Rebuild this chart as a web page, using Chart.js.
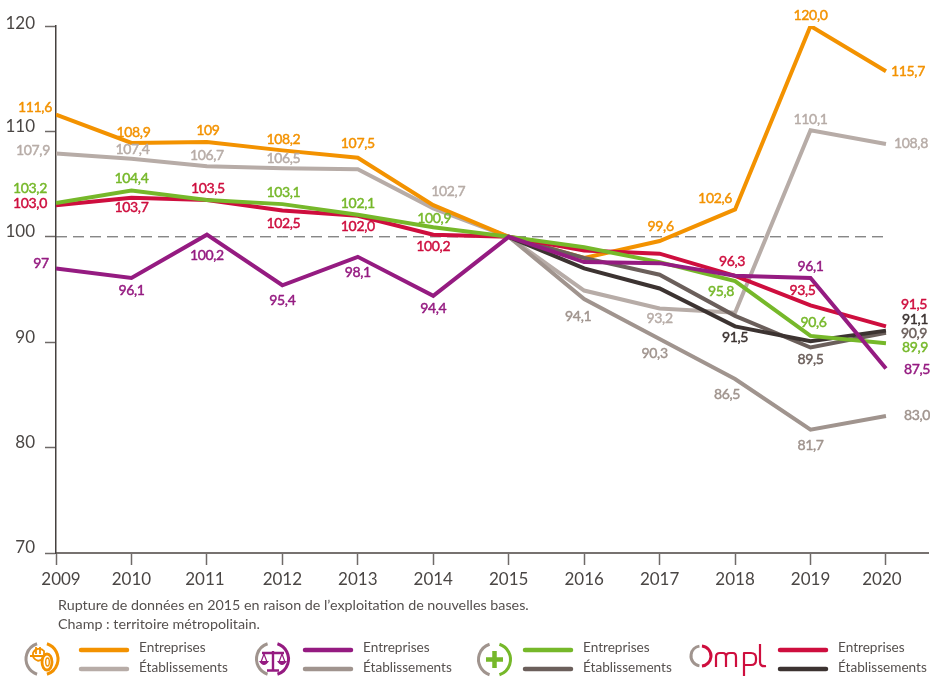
<!DOCTYPE html>
<html lang="fr">
<head>
<meta charset="utf-8">
<style>html,body{margin:0;padding:0;background:#fff}canvas{display:block}</style>
<script src="https://cdn.jsdelivr.net/npm/chart.js@4"></script>
</head>
<body>
<canvas id="c" width="930" height="678"></canvas>
<script>
const years = [2009,2010,2011,2012,2013,2014,2015,2016,2017,2018,2019,2020];
const yTicks = [70,80,90,100,110,120];
const baseline = [100,100,100,100,100,100,100,100,100,100,100,100];

// Valeurs
const orangeEnt = [111.6,108.9,109,108.2,107.5,103,100,98,99.6,102.6,120,115.7];
const orangeEta = [107.9,107.4,106.7,106.5,106.4,102.7,100,94.9,93.2,92.8,110.1,108.8];
const purpleEnt = [97,96.1,100.2,95.4,98.1,94.4,100,97.6,97.5,96.3,96.1,87.5];
const purpleEta = [null,null,null,null,null,null,100,94.1,90.3,86.5,81.7,83];
const greenEnt  = [103.2,104.4,103.5,103.1,102.1,100.9,100,99,97.6,95.8,90.6,89.9];
const greenEta  = [null,null,null,null,null,null,100,98,96.4,92.5,89.5,90.9];
const redEnt    = [103,103.7,103.5,102.5,102,100.2,100,98.7,98.4,96.3,93.5,91.5];
const redEta    = [null,null,null,null,null,null,100,97,95.1,91.5,90.1,91.1];

// Étiquettes affichées
const orangeEntText = ['111,6','108,9','109','108,2','107,5',null,null,null,'99,6','102,6','120,0','115,7'];
const orangeEtaText = ['107,9','107,4','106,7','106,5',null,'102,7',null,null,'93,2',null,'110,1','108,8'];
const purpleEntText = ['97','96,1','100,2','95,4','98,1','94,4',null,null,null,null,'96,1','87,5'];
const purpleEtaText = [null,null,null,null,null,null,null,'94,1','90,3','86,5','81,7','83,0'];
const greenEntText  = ['103,2','104,4',null,'103,1','102,1','100,9',null,null,null,'95,8','90,6','89,9'];
const greenEtaText  = [null,null,null,null,null,null,null,null,null,null,'89,5','90,9'];
const redEntText    = ['103,0','103,7','103,5','102,5','102,0','100,2',null,null,null,'96,3','93,5','91,5'];
const redEtaText    = [null,null,null,null,null,null,null,null,null,'91,5',null,'91,1'];

// Décalages des étiquettes, en pixels, par rapport au point
const orangeEntShift = [[-21,-7],[2,-11],[1,-11],[1,-11],[0,-14],0,0,0,[1,-15],[-20,-11],[0,-11],[22,0]];
const orangeEtaShift = [[-23,-3],[1,-9],[0,-11],[1,-10],0,[15,-17],0,0,[0,10],0,[0,-11],[25,-1]];
const purpleEntShift = [[-15,-5],[0,13],[0,21],[0,15],[0,16],[0,13],0,0,0,0,[0,-11],[31,1]];
const purpleEtaShift = [0,0,0,0,0,0,0,[-6,17],[-5,14],[-8,15],[0,16],[31,0]];
const greenEntShift  = [[-26,-15],[0,-12],0,[1,-12],[0,-11],[1,-9],0,0,0,[-14,10],[3,-13],[29,4]];
const greenEtaShift  = [0,0,0,0,0,0,0,0,0,0,[0,12],[28,1]];
const redEntShift    = [[-26,-2],[0,10],[1,-11],[1,13],[0,11],[0,12],0,0,0,[-3,-14],[-8,-15],[28,-22]];
const redEtaShift    = [0,0,0,0,0,0,0,0,0,[0,11],0,[29,-11]];

const footnotes = ['Rupture de données en 2015 en raison de l’exploitation de nouvelles bases.','Champ : territoire métropolitain.'];
const legendEnt = 'Entreprises';
const legendEta = 'Établissements';

const FONT = 'Lato, "Open Sans", sans-serif';
const C = {orange:'#F39200',orange2:'#B7ACA7',purple:'#951B81',purple2:'#A0948E',green:'#76B82A',green2:'#6B5F5B',red:'#CE0E3E',red2:'#3C3331',grey:'#A0948E'};

function ds(label,values,color,order,text,shift){
  return {label,data:years.map((x,i)=>({x,y:values[i]})),borderColor:color,backgroundColor:color,borderWidth:4,
    pointRadius:0,pointHoverRadius:0,tension:0,borderJoinStyle:'miter',borderCapStyle:'butt',spanGaps:false,order,
    valueText:text,valueShift:shift};
}
const datasets = [
  ds('Entreprises 1',orangeEnt,C.orange,7,orangeEntText,orangeEntShift),
  ds('Établissements 1',orangeEta,C.orange2,8,orangeEtaText,orangeEtaShift),
  ds('Entreprises 2',purpleEnt,C.purple,1,purpleEntText,purpleEntShift),
  ds('Établissements 2',purpleEta,C.purple2,6,purpleEtaText,purpleEtaShift),
  ds('Entreprises 3',greenEnt,C.green,2,greenEntText,greenEntShift),
  ds('Établissements 3',greenEta,C.green2,5,greenEtaText,greenEtaShift),
  ds('Entreprises 4',redEnt,C.red,3,redEntText,redEntShift),
  ds('Établissements 4',redEta,C.red2,4,redEtaText,redEtaShift),
  {label:'Base 100',data:years.map((x,i)=>({x,y:baseline[i]})),borderColor:'#555',borderWidth:1,borderDash:[11,6],pointRadius:0,order:9}
];

function arcs(ctx,cx,cy,r,col,lw){
  ctx.lineWidth=lw;ctx.lineCap='butt';
  ctx.strokeStyle=C.grey;ctx.beginPath();ctx.arc(cx,cy,r,Math.PI*0.6,Math.PI*1.4);ctx.stroke();
  ctx.strokeStyle=col;ctx.beginPath();ctx.arc(cx,cy,r,-Math.PI*0.4,Math.PI*0.4);ctx.stroke();
}
function stroke(ctx,col,lw,path){ctx.strokeStyle=col;ctx.lineWidth=lw;ctx.lineCap='butt';ctx.lineJoin='round';ctx.stroke(new Path2D(path));}

const drawIcons = {
  orange(ctx){
    arcs(ctx,42,659,16,C.orange,3);
    stroke(ctx,C.orange,1.8,'M30,656 H45 M33,655 V653 A6.5,6.5 0 0 1 44,651 V655 M36,647 V654 M40,647 V654 M33,657 Q38,664 43,658');
    ctx.strokeStyle=C.orange;ctx.lineWidth=2.8;ctx.beginPath();ctx.ellipse(47,662,5,8,0,0,Math.PI*2);ctx.stroke();
    ctx.lineWidth=1.4;ctx.beginPath();ctx.ellipse(47.5,662,1.8,4,0,0,Math.PI*2);ctx.stroke();
  },
  purple(ctx){
    arcs(ctx,272.5,659,16,C.purple,3);
    stroke(ctx,C.purple,2.4,'M273,651 V670 M267,670.5 H279 M262,653 H284');
    stroke(ctx,C.purple,1.2,'M264,654 L261,662 M264,654 L267,662 M282,654 L279,662 M282,654 L285,662');
    ctx.fillStyle=C.purple;
    ctx.fill(new Path2D('M259,661 H269 Q264,669 259,661 Z M277,661 H287 Q282,669 277,661 Z'));
  },
  green(ctx){
    arcs(ctx,494.5,659.5,16,C.green,3);
    stroke(ctx,C.green,4.5,'M494.5,651 V668 M486,659.5 H503');
  },
  red(ctx){
    ctx.lineWidth=3;ctx.lineCap='butt';
    ctx.strokeStyle=C.grey;ctx.beginPath();ctx.arc(701,656,10,Math.PI*0.55,Math.PI*1.45);ctx.stroke();
    ctx.strokeStyle=C.red;ctx.beginPath();ctx.arc(701,656,10,-Math.PI*0.47,Math.PI*0.47);ctx.stroke();
    stroke(ctx,C.red,2.2,'M716,667 V657 Q716,653 720,653 H723 Q726,653 726,657 V667 M726,657 Q726,653 730,653 H733 Q736,653 736,657 V667');
    stroke(ctx,C.red,2.2,'M744,676 V653 H751 Q756,653 756,658 V660 Q756,665 751,665 H744');
    stroke(ctx,C.red,2.2,'M760,644 V662 Q760,667 766,666');
  }
};

const extras = {
  id:'extras',
  beforeDraw(chart){
    // Remonte les libellés de l'axe vertical au-dessus de leur graduation
    for(const item of chart.scales.y.getLabelItems()){
      if(item.shifted) continue;
      item.options.translation[1] -= item.label==='120' ? 2 : 5;
      item.shifted=true;
    }
    // Rentre les libellés extrêmes de l'axe horizontal
    for(const item of chart.scales.x.getLabelItems()){
      if(item.shifted) continue;
      if(item.label==='2009') item.options.translation[0] += 5;
      if(item.label==='2020') item.options.translation[0] -= 4;
      if(item.label==='2011') item.options.translation[0] -= 2;
      item.shifted=true;
    }
  },
  afterDatasetsDraw(chart){
    const ctx=chart.ctx;ctx.save();
    ctx.font='14px '+FONT;ctx.textAlign='center';ctx.textBaseline='middle';
    ctx.letterSpacing='-0.35px';ctx.lineWidth=0.45;ctx.lineJoin='round';
    chart.data.datasets.forEach((d,i)=>{
      if(!d.valueText) return;
      const pts=chart.getDatasetMeta(i).data;
      d.valueText.forEach((t,j)=>{
        if(!t) return;
        const s=d.valueShift[j]||[0,0];
        ctx.fillStyle=d.borderColor;ctx.strokeStyle=d.borderColor;
        ctx.fillText(t,pts[j].x+s[0],pts[j].y+s[1]);
        ctx.strokeText(t,pts[j].x+s[0],pts[j].y+s[1]);
      });
    });
    ctx.restore();
  },
  afterDraw(chart){
    const ctx=chart.ctx;ctx.save();
    ctx.fillStyle='#55504e';ctx.textAlign='left';ctx.textBaseline='middle';
    ctx.font='14.3px '+FONT;
    footnotes.forEach((t,i)=>ctx.fillText(t,58,605+i*19));
    ctx.font='13.6px '+FONT;
    const cols=[[79,139,'orange',0,1],[303,363,'purple',2,3],[523,583,'green',4,5],[778,838,'red',6,7]];
    for(const [lx,tx,key,a,b] of cols){
      ctx.lineCap='round';ctx.lineWidth=4.5;
      ctx.strokeStyle=chart.data.datasets[a].borderColor;ctx.beginPath();ctx.moveTo(lx+2,650);ctx.lineTo(lx+48,650);ctx.stroke();
      ctx.strokeStyle=chart.data.datasets[b].borderColor;ctx.beginPath();ctx.moveTo(lx+2,669);ctx.lineTo(lx+48,669);ctx.stroke();
      ctx.fillStyle='#55504e';
      ctx.fillText(legendEnt,tx,648);
      ctx.fillText(legendEta,tx,668);
      drawIcons[key](ctx);
    }
    ctx.restore();
  }
};

new Chart(document.getElementById('c'),{
  type:'line',
  data:{datasets},
  plugins:[extras],
  options:{
    responsive:false,animation:false,
    events:[],
    layout:{padding:{top:26,right:2,left:0,bottom:0}},
    plugins:{legend:{display:false},tooltip:{enabled:false},title:{display:false}},
    scales:{
      x:{
        type:'linear',min:2009,max:2020.557,
        afterBuildTicks:s=>{s.ticks=years.map(v=>({value:v}));},
        afterFit:s=>{s.height=125;},
        ticks:{stepSize:1,autoSkip:false,maxRotation:0,padding:4,color:'#4a4644',font:{family:FONT,size:17},callback:v=>String(v)},
        grid:{drawOnChartArea:false,drawTicks:true,tickLength:12,tickColor:'#6f6a68',tickWidth:1.5},
        border:{color:'#777270',width:2}
      },
      y:{
        min:70,max:120,
        afterBuildTicks:s=>{s.ticks=yTicks.map(v=>({value:v}));},
        afterFit:s=>{s.width=56;},
        ticks:{padding:10,color:'#4a4644',font:{family:FONT,size:17}},
        grid:{drawOnChartArea:false,drawTicks:true,tickLength:11,tickColor:'#6f6a68',tickWidth:1.5},
        border:{color:'#45413f',width:1.5}
      }
    }
  }
});
</script>
</body>
</html>
